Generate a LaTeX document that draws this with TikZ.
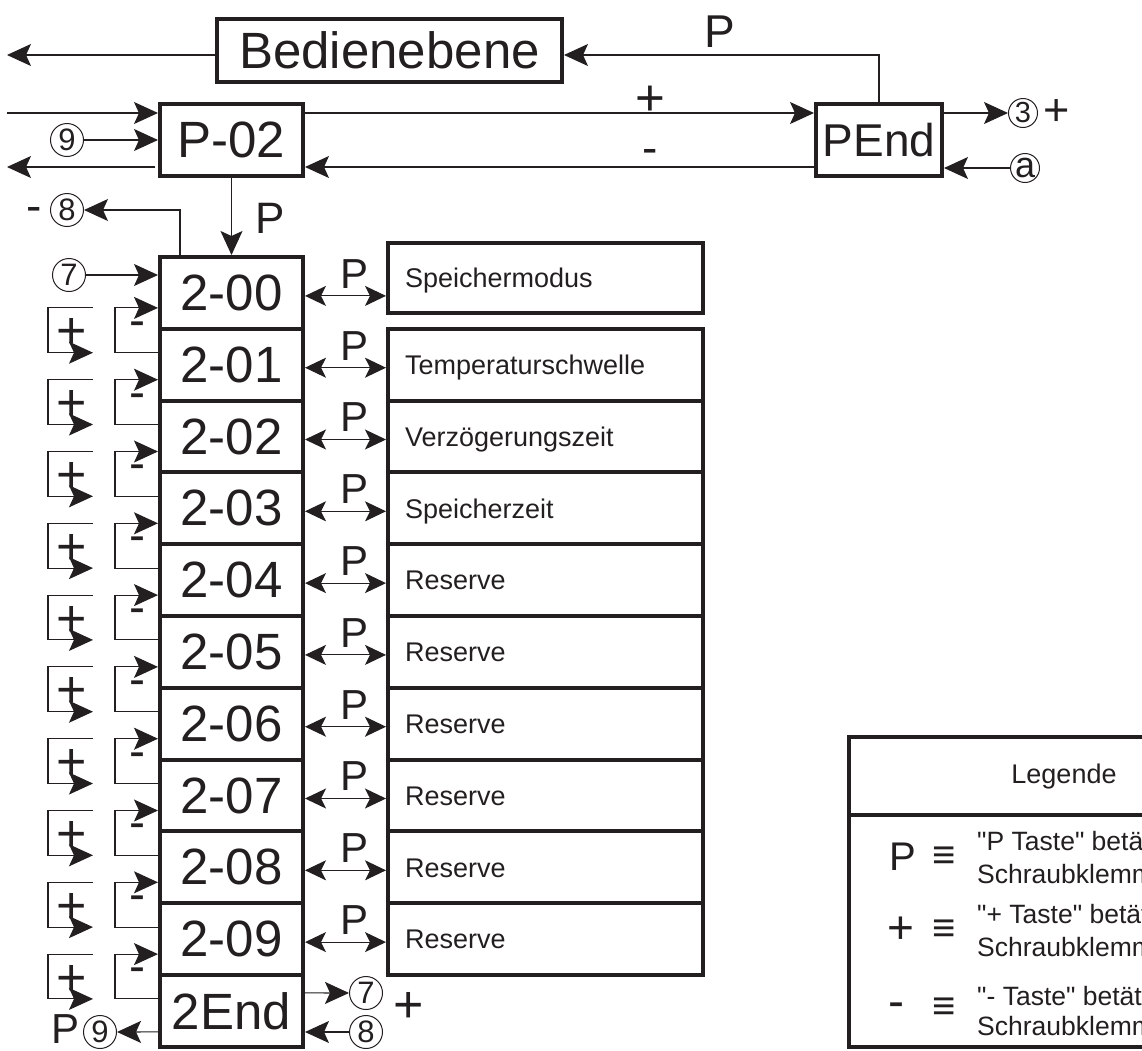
\documentclass[tikz,border=0pt]{standalone}
\usepackage{fontspec}
\setmainfont{Liberation Sans}[Ligatures=TeXOff]
\usetikzlibrary{arrows.meta}
\definecolor{ink}{HTML}{231F20}
\newcommand{\fsz}[1]{\fontsize{#1}{#1}\selectfont}
\begin{document}
\begin{tikzpicture}[x=1pt,y=-1pt,
  bigbox/.style={draw=ink, line width=4pt, rectangle, minimum width=143pt, minimum height=71.8pt, inner sep=0pt, font=\fsz{51}, text=ink},
  infobox/.style={draw=ink, line width=4pt, rectangle, minimum width=315pt, minimum height=71.8pt, inner sep=0pt, text width=281pt, align=left, text height=19.5pt, text depth=0pt, font=\fsz{27}, text=ink},
  arr/.style={draw=ink, line width=1.1pt, -{Stealth[length=24pt,width=22pt,inset=5pt]}},
  biarr/.style={draw=ink, line width=1.1pt, {Stealth[length=21pt,width=20pt,inset=5pt]}-{Stealth[length=21pt,width=20pt,inset=5pt]}},
  lbl/.style={inner sep=0pt, text=ink},
  circ/.style={circle, draw=ink, line width=1pt, minimum size=33pt, inner sep=0pt, font=\fsz{31}, text=ink},
  circs/.style={circ, minimum size=29pt, font=\fsz{29}},
  legtext/.style={lbl, anchor=base west, font=\fsz{26.5}}
]
\useasboundingbox (0,0) rectangle (1142,1050);
\clip (0,0) rectangle (1142,1050);

% top boxes
\node[bigbox, minimum width=345pt, minimum height=63pt] (bed) at (389.5,50.5) {Bedienebene};
\node[bigbox] (p02) at (231.5,140) {P-02};
\node[bigbox, minimum width=126pt, font=\fsz{46}] (pend) at (879,140) {PEnd};

\coordinate (lb) at (7,55);
\coordinate (lp) at (7,113);
\coordinate (lm) at (7,167);

\node[circ] (c9t) at (67,140) {9};
\node[circ] (c8t) at (67,210) {8};
\node[circ] (c7t) at (69,275) {7};
\node[circs] (c3) at (1023,113) {3};
\node[circs, font=\fsz{36}] (ca) at (1025,168) {a};

% parameter boxes
\foreach \k/\t in {0/2-00,1/2-01,2/2-02,3/2-03,4/2-04,5/2-05,6/2-06,7/2-07,8/2-08,9/2-09,10/2End}
  \node[bigbox] (b\k) at (231.5,{292.9+71.8*\k}) {\t};

\node[infobox, minimum height=70pt] (i0) at (545.5,278) {Speichermodus};
\foreach \k/\t in {1/Temperaturschwelle,2/Verzögerungszeit,3/Speicherzeit,4/Reserve,5/Reserve,6/Reserve,7/Reserve,8/Reserve,9/Reserve}
  \node[infobox] (i\k) at (545.5,{292.9+71.8*\k}) {\t};

\node[circ] (c7b) at (366,993) {7};
\node[circ] (c8b) at (366,1032) {8};
\node[circ] (c9b) at (100,1032) {9};

% top connectors
\draw[arr] ([yshift=-4.5pt]bed.west) -- (lb);
\draw[arr] (pend.north) |- ([yshift=-4.5pt]bed.east);
\draw[arr] (lp) -- (lp -| p02.west);
\draw[arr] ([yshift=27pt]p02.east) -- ([yshift=27pt]p02.east -| pend.west);
\draw[arr] ([yshift=-27pt]pend.west) -- ([yshift=-27pt]pend.west -| p02.east);
\draw[arr] ([yshift=-27pt,xshift=-3pt]p02.west) -- (lm);
\draw[arr] (c9t) -- (c9t -| p02.west);
\draw[arr] ([yshift=27pt]pend.east) -- (c3);
\draw[arr] (ca) -- (ca -| pend.east);
\draw[arr] (p02.south) -- (b0.north);
\draw[arr] ([xshift=-51.5pt]b0.north) |- (c8t);
\draw[arr] (c7t) -- (c7t -| b0.west);

% labels top
\node[lbl, font=\fsz{46}] (lP1) at (720,32) {P};
\node[lbl, font=\fsz{51}] (lplus1) at (650,100.5) {+};
\node[lbl, font=\fsz{46}] (lminus1) at (650,156) {-};
\node[lbl, font=\fsz{44}] (lP2) at (270,218) {P};
\node[lbl, font=\fsz{46}] (lminus2) at (34,214) {-};
\node[lbl, font=\fsz{45}] (lplus2) at (1057,113) {+};

% P arrows to info boxes
\foreach \k in {0,...,9}
  \draw[biarr] ([yshift=-3pt]b\k.east) -- ([yshift=-3pt]b\k.east -| i\k.west)
    node[lbl, font=\fsz{42}, pos=0.5, above=7pt, xshift=9pt] (pl\k) {P};

% +/- brackets
\foreach \i [count=\j from 1] in {0,...,9} {
  \draw[arr] ([yshift=12pt]b\j.west) -- ++(-43,0) |- ([yshift=-15pt]b\i.west);
  \coordinate (pa\i) at ([xshift=-65pt,yshift=-15pt]b\i.west);
  \coordinate (pb\i) at ([xshift=-65pt,yshift=12pt]b\j.west);
  \draw[arr] (pa\i) -- ++(-45,0) |- (pb\i);
  \node[lbl, font=\fsz{48}] (mi\i) at ([xshift=-21pt,yshift=-36pt]b\i.west) {-};
  \node[lbl, font=\fsz{52}] (ps\i) at ([xshift=-86pt,yshift=-41pt]b\i.west) {+};
}

% bottom connectors
\draw[arr] ([yshift=18pt]b10.east) -- (c7b);
\draw[arr] (c8b) -- (c8b -| b10.east);
\draw[arr] ([yshift=-21pt]b10.west) -- (c9b);
\node[lbl, font=\fsz{52}] (lplus3) at (409,1007) {+};
\node[lbl, font=\fsz{42}] (lP3) at (66,1029) {P};

% legend
\node[draw=ink, line width=4pt, minimum width=351pt, minimum height=310pt, inner sep=0pt] (leg) at (1024.5,892) {};
\coordinate (sepL) at (849,815);
\coordinate (sepR) at (1200,815);
\draw[draw=ink, line width=4pt] (sepL) -- (sepR);
\node[lbl, anchor=base, font=\fsz{27}] (legt) at (1064,783) {Legende};

\node[lbl, font=\fsz{40}] (lgP) at (903,857) {P};
\node[lbl, font=\fsz{40}] (lgE1) at (944,858) {≡};
\node[legtext] (lgT1a) at (977,850) {"P Taste" betätigen};
\node[legtext] (lgT1b) at (977,883) {Schraubklemme};

\node[lbl, font=\fsz{46}] (lgPl) at (901,930) {+};
\node[lbl, font=\fsz{40}] (lgE2) at (944,931) {≡};
\node[legtext] (lgT2a) at (977,923) {"+ Taste" betätigen};
\node[legtext] (lgT2b) at (977,956) {Schraubklemme};

\node[lbl, font=\fsz{48}] (lgMi) at (896,1010) {-};
\node[lbl, font=\fsz{40}] (lgE3) at (944,1009) {≡};
\node[legtext] (lgT3a) at (977,1005) {"- Taste" betätigen};
\node[legtext] (lgT3b) at (977,1035) {Schraubklemme};
\end{tikzpicture}
\end{document}
